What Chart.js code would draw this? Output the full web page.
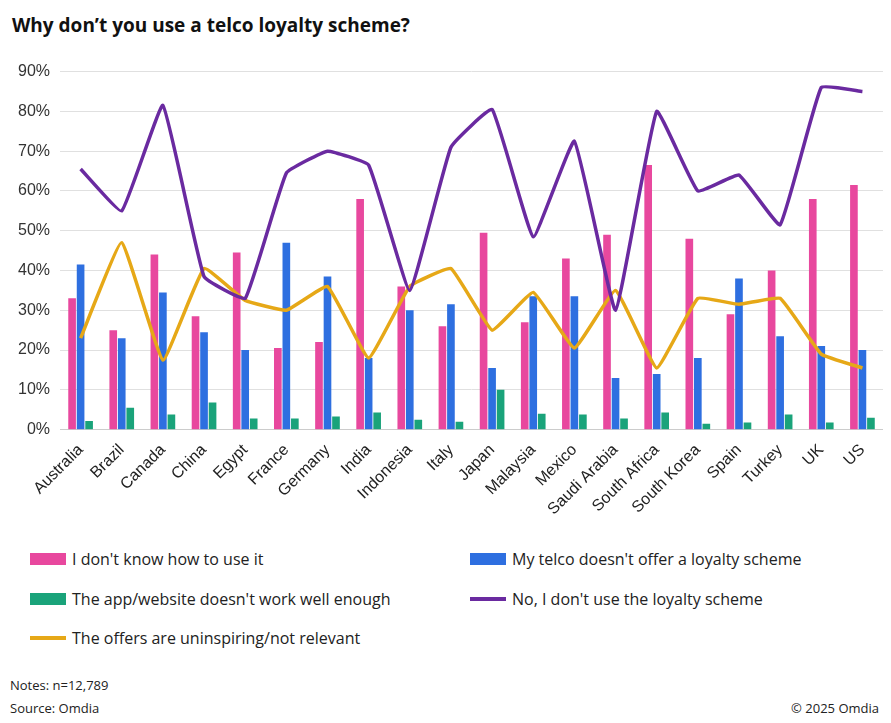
<!DOCTYPE html>
<html>
<head>
<meta charset="UTF-8">
<script src="https://cdn.jsdelivr.net/npm/chart.js"></script>
<style>
  body { margin: 0; background: #fff; font-family: "Open Sans", "Liberation Sans", Arial, sans-serif; }
  #wrap { position: relative; width: 891px; height: 723px; }
  h1 { position: absolute; left: 12px; top: 12px; margin: 0; font-size: 19px; font-weight: bold; color: #111; }
  #chartBox { position: absolute; left: 8px; top: 52px; width: 875px; height: 470px; }
  #legend { position: absolute; left: 30px; top: 548px; width: 840px; font-size: 16px; color: #222; }
  .item { position: absolute; white-space: nowrap; display: flex; align-items: center; }
  .sw { display: inline-block; width: 36px; height: 12px; margin-right: 6px; }
  .ln { display: inline-block; width: 36px; height: 4px; margin-right: 6px; }
  .foot { position: absolute; font-size: 13px; color: #222; }
</style>
</head>
<body>
<div id="wrap">
  <h1>Why don’t you use a telco loyalty scheme?</h1>
  <div id="chartBox"><canvas id="c"></canvas></div>
  <div id="legend">
    <div class="item" style="left:0;top:0"><span class="sw" style="background:#e8489e"></span>I don't know how to use it</div>
    <div class="item" style="left:440px;top:0"><span class="sw" style="background:#2e6fe0"></span>My telco doesn't offer a loyalty scheme</div>
    <div class="item" style="left:0;top:40px"><span class="sw" style="background:#1aa37a"></span>The app/website doesn't work well enough</div>
    <div class="item" style="left:440px;top:40px"><span class="ln" style="background:#6a2aa0"></span>No, I don't use the loyalty scheme</div>
    <div class="item" style="left:0;top:79px"><span class="ln" style="background:#e6a817"></span>The offers are uninspiring/not relevant</div>
  </div>
  <div class="foot" style="left:10px;top:676px">Notes: n=12,789</div>
  <div class="foot" style="left:10px;top:699px">Source: Omdia</div>
  <div class="foot" style="right:12px;top:699px">© 2025 Omdia</div>
</div>
<script>
var countries = ['Australia','Brazil','Canada','China','Egypt','France','Germany','India','Indonesia','Italy','Japan','Malaysia','Mexico','Saudi Arabia','South Africa','South Korea','Spain','Turkey','UK','US'];
var dontKnow = [33,25,44,28.5,44.5,20.5,22,58,36,26,49.5,27,43,49,66.5,48,29,40,58,61.5];
var noOffer = [41.5,23,34.5,24.5,20,47,38.5,18,30,31.5,15.5,33.5,33.5,13,14,18,38,23.5,21,20];
var appBad = [2.2,5.5,3.8,6.8,2.8,2.8,3.3,4.3,2.5,2,10,4,3.8,2.8,4.3,1.5,1.8,3.8,1.8,3];
var noUse = [65.5,55,81.5,38.5,33,64.5,70,66.5,35,71,80.5,48.5,72.5,30,80,60,64,51.5,86,85];
var uninspiring = [23,47,17.5,40.5,32.5,30,36,18,36,40.5,25,34.5,20.5,35,15.5,33,31.5,33,19,15.5];

new Chart(document.getElementById('c'), {
  type: 'bar',
  data: {
    labels: countries,
    datasets: [
      { type: 'line', label: 'No', data: noUse, borderColor: '#6a2aa0', borderWidth: 3.5, pointRadius: 0, tension: 0.1, order: 0 },
      { type: 'line', label: 'Offers', data: uninspiring, borderColor: '#e6a817', borderWidth: 3.5, pointRadius: 0, tension: 0.1, order: 0 },
      { label: 'Dont know', data: dontKnow, backgroundColor: '#e8489e', order: 1 },
      { label: 'No offer', data: noOffer, backgroundColor: '#2e6fe0', order: 1 },
      { label: 'App', data: appBad, backgroundColor: '#1aa37a', order: 1 }
    ]
  },
  options: {
    responsive: true,
    maintainAspectRatio: false,
    animation: false,
    datasets: { bar: { categoryPercentage: 0.62, barPercentage: 0.9 } },
    plugins: { legend: { display: false }, tooltip: { enabled: false } },
    scales: {
      y: {
        min: 0, max: 90,
        ticks: { stepSize: 10, callback: function(v) { return v + '%'; }, font: { size: 16 }, color: '#333', padding: 10 },
        grid: { color: '#e0e0e0', drawTicks: false },
        border: { display: false }
      },
      x: {
        ticks: { maxRotation: 45, minRotation: 45, font: { size: 16 }, color: '#222' },
        grid: { display: false },
        border: { color: '#ccc' }
      }
    }
  }
});
</script>
</body>
</html>
